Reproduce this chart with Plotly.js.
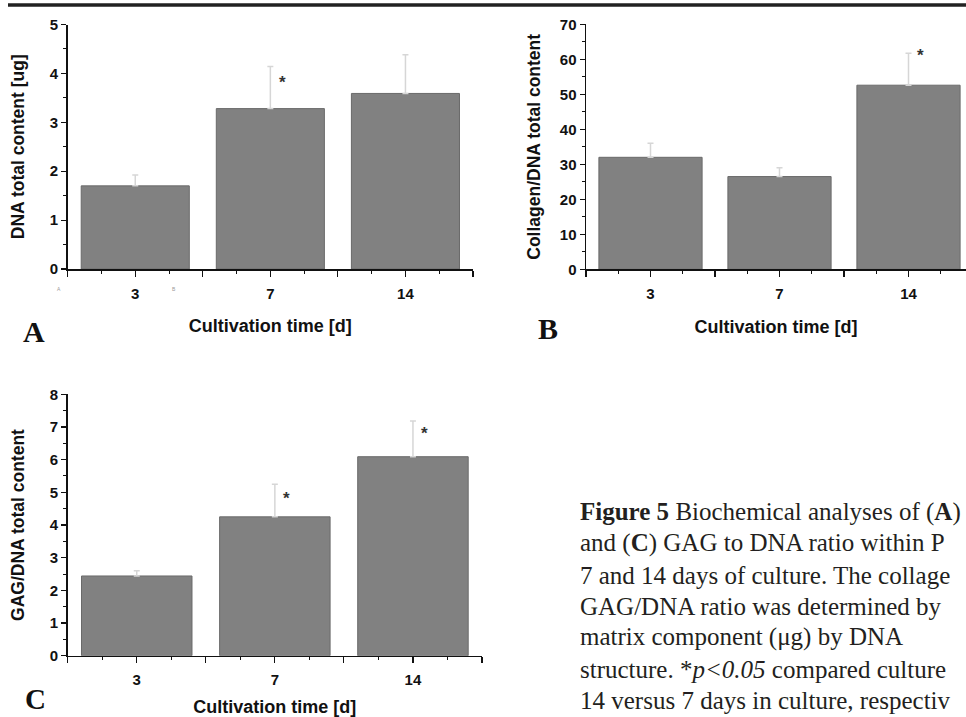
<!DOCTYPE html>
<html>
<head>
<meta charset="utf-8">
<script src="https://cdn.plot.ly/plotly-3.0.1.min.js"></script>
<style>html,body{margin:0;padding:0;background:#fff;}#chart{width:966px;height:717px;}</style>
</head>
<body>
<div id="chart"></div>
<script>
// ---- data ----
const days = ['3', '7', '14'];
const dnaMean = [1.70, 3.28, 3.59];
const dnaErr  = [0.22, 0.86, 0.79];
const dnaStar = [null, 3.89, null];     // level of the "*" mark, null = no mark
const colMean = [32.0, 26.5, 52.6];
const colErr  = [4.0, 2.5, 9.1];
const colStar = [null, null, 62.1];
const gagMean = [2.44, 4.25, 6.09];
const gagErr  = [0.16, 1.00, 1.09];
const gagStar = [null, 4.92, 6.91];
const captionLines = [
  '<b>Figure 5</b> Biochemical analyses of (<b>A</b>)',
  'and (<b>C</b>) GAG to DNA ratio within P',
  '7 and 14 days of culture. The collage',
  'GAG/DNA ratio was determined by',
  'matrix component (μg) by DNA',
  'structure. *<i>p&lt;0.05</i> compared culture',
  '14 versus 7 days in culture, respectiv'
];

// ---- drawing ----
const W = 966, H = 717;
const pos = days.map((d, i) => i + 1);
const sans = 'Arial, "Liberation Sans", sans-serif';
const serif = '"Times New Roman", "Liberation Serif", serif';

function barTrace(means, errs, xa, ya) {
  return {
    type: 'bar', x: pos, y: means, width: 0.8, xaxis: xa, yaxis: ya,
    marker: {color: '#818181', line: {color: '#6a6a6a', width: 1}},
    error_y: {type: 'data', symmetric: false, array: errs, arrayminus: errs.map(() => 0),
              color: '#d6d6d6', thickness: 1.5, width: 3},
    hoverinfo: 'skip'
  };
}
const data = [
  barTrace(dnaMean, dnaErr, 'x', 'y'),
  barTrace(colMean, colErr, 'x2', 'y2'),
  barTrace(gagMean, gagErr, 'x3', 'y3')
];

const px2x = p => p / W;
const px2y = p => 1 - p / H;

function xax(domain, range, titleStandoff) {
  return {
    domain: domain, range: range, showgrid: false, zeroline: false,
    showline: true, linecolor: '#111', linewidth: 1.5,
    tickmode: 'array', tickvals: [0.5, 1, 1.5, 2, 2.5, 3, 3.5],
    ticktext: ['', days[0], '', days[1], '', days[2], ''],
    ticks: 'outside', ticklen: 6, tickwidth: 1.2, tickcolor: '#111',
    ticklabelstandoff: 4,
    minor: {tick0: 0.5, dtick: 0.25, ticks: 'outside', ticklen: 3, tickwidth: 1, tickcolor: '#111'},
    tickfont: {family: sans, size: 15, color: '#111', weight: 'bold'},
    title: {text: 'Cultivation time [d]', standoff: titleStandoff,
            font: {family: sans, size: 18, color: '#111', weight: 'bold'}},
    fixedrange: true
  };
}
function yax(domain, range, dtick, title, standoff) {
  return {
    domain: domain, range: range, showgrid: false, zeroline: false,
    showline: true, linecolor: '#111', linewidth: 1.5,
    dtick: dtick, tick0: 0, ticks: 'outside', ticklen: 5, tickwidth: 1.2, tickcolor: '#111',
    minor: {dtick: dtick / 2, ticks: 'outside', ticklen: 3, tickwidth: 1, tickcolor: '#111'},
    tickfont: {family: sans, size: 15, color: '#111', weight: 'bold'},
    title: {text: title, standoff: standoff,
            font: {family: sans, size: 17.5, color: '#111', weight: 'bold'}},
    fixedrange: true
  };
}

const annotations = [];
function stars(levels, xa, ya) {
  levels.forEach((lv, i) => {
    if (lv === null) return;
    annotations.push({x: pos[i], y: lv, xref: xa, yref: ya, text: '*',
      showarrow: false, xshift: 12, yshift: -4, xanchor: 'center', yanchor: 'middle',
      font: {family: sans, size: 17, color: '#333', weight: 'bold'}});
  });
}
stars(dnaStar, 'x', 'y');
stars(colStar, 'x2', 'y2');
stars(gagStar, 'x3', 'y3');

[['A', 34, 331, 'middle'], ['B', 548, 328, 'middle']].forEach(([t, x, y, a]) => {
  annotations.push({xref: 'paper', yref: 'paper', x: px2x(x), y: px2y(y), text: '<b>' + t + '</b>',
    showarrow: false, xanchor: 'center', yanchor: a,
    font: {family: serif, size: 30, color: '#111'}});
});
annotations.push({xref: 'paper', yref: 'paper', x: px2x(35), y: 0, text: '<b>C</b>',
  showarrow: false, xanchor: 'center', yanchor: 'bottom', yshift: 0,
  font: {family: serif, size: 29, color: '#111'}});
// tiny stray marks under panel A
[['A', 59, 289], ['B', 174, 289]].forEach(([t, x, y]) => {
  annotations.push({xref: 'paper', yref: 'paper', x: px2x(x), y: px2y(y), text: t,
    showarrow: false, xanchor: 'center', yanchor: 'middle',
    font: {family: sans, size: 5, color: '#999'}});
});
const capY = [512, 543, 575, 606, 637, 669, 700];
captionLines.forEach((t, i) => {
  annotations.push({xref: 'paper', yref: 'paper', x: px2x(578), y: px2y(capY[i]), text: t,
    showarrow: false, xanchor: 'left', yanchor: 'middle', align: 'left',
    font: {family: serif, size: 25, color: '#231f20'}});
});

const layout = {
  width: W, height: H, margin: {l: 0, r: 0, t: 0, b: 0},
  paper_bgcolor: '#fff', plot_bgcolor: '#fff', showlegend: false,
  xaxis:  xax([px2x(67.7), px2x(473)], [0.5, 3.5], 19),
  yaxis:  yax([px2y(269), px2y(24.5)], [0, 5], 1, 'DNA total content [ug]', 20),
  xaxis2: xax([px2x(586), 1], [0.5, 0.5 + (966 - 586) / 129], 19.5),
  yaxis2: yax([px2y(269.3), px2y(24.3)], [0, 70], 10, 'Collagen/DNA total content', 14),
  xaxis3: xax([px2x(67.7), px2x(482)], [0.5, 3.5], 13.5),
  yaxis3: yax([px2y(655.7), px2y(394.3)], [0, 8], 1, 'GAG/DNA total content', 20),
  annotations: annotations,
  shapes: [{type: 'line', xref: 'paper', yref: 'paper', x0: px2x(8), x1: 1, y0: px2y(5), y1: px2y(5),
            line: {color: '#222', width: 3.5}}]
};
layout.xaxis.anchor = 'y';   layout.yaxis.anchor = 'x';
layout.xaxis2.anchor = 'y2'; layout.yaxis2.anchor = 'x2';
layout.xaxis3.anchor = 'y3'; layout.yaxis3.anchor = 'x3';

Plotly.newPlot('chart', data, layout, {displayModeBar: false, staticPlot: true});
</script>
</body>
</html>
